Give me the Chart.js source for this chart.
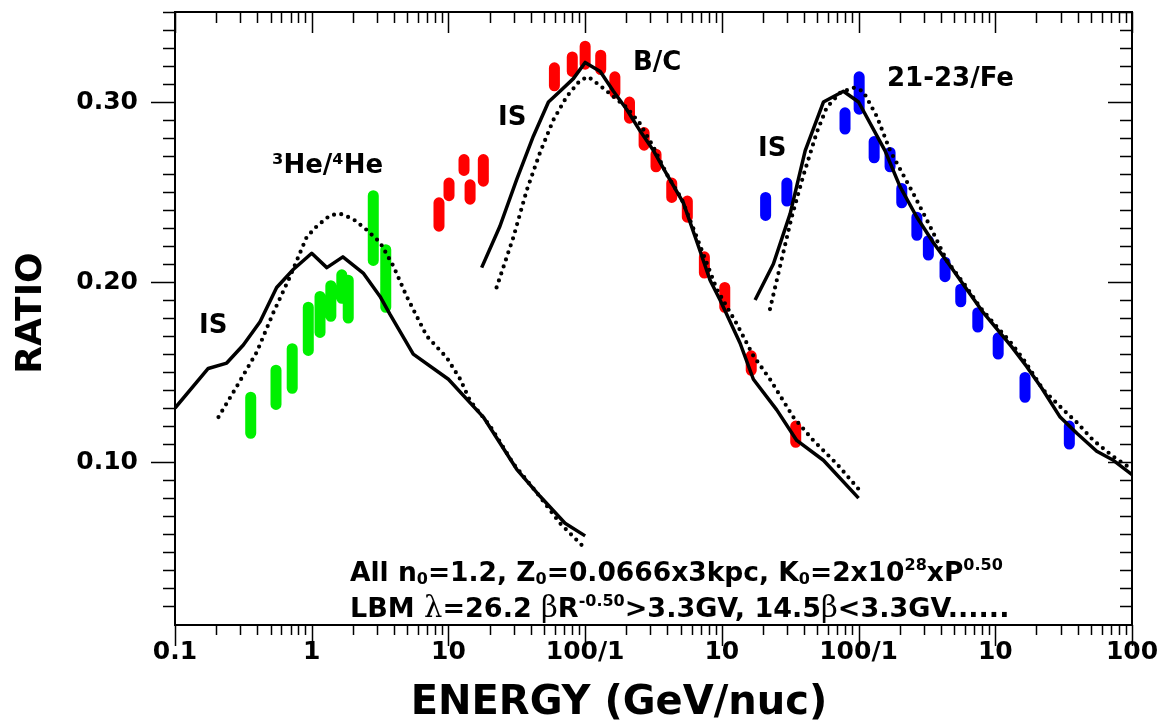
<!DOCTYPE html>
<html>
<head>
<meta charset="utf-8">
<script src="https://cdn.jsdelivr.net/npm/chart.js@4.4.1/dist/chart.umd.min.js"></script>
<style>
  html, body { margin: 0; background: #fff; }
</style>
</head>
<body>
<canvas id="ratioChart" width="1164" height="721"></canvas>
<script>
// three panels share one energy axis: He (x1), B/C (x100), 21-23/Fe (x1e4)
const panelShift = [1, 100, 1e4];

// 3He/4He data (GeV/nuc, ratio range)
const heE  = [0.358, 0.548, 0.72, 0.944, 1.15, 1.38, 1.66, 1.85, 2.82, 3.48];
const heHi = [0.136, 0.151, 0.163, 0.186, 0.192, 0.198, 0.204, 0.201, 0.248, 0.218];
const heLo = [0.116, 0.132, 0.141, 0.162, 0.172, 0.181, 0.191, 0.180, 0.212, 0.186];

// B/C data
const bcE  = [0.0853, 0.101, 0.130, 0.144, 0.180, 0.596, 0.805, 1.0, 1.30, 1.65, 2.11, 2.70, 3.30, 4.30, 5.59, 7.45, 10.5, 16.4, 34.7];
const bcHi = [0.244, 0.255, 0.268, 0.254, 0.268, 0.319, 0.325, 0.331, 0.326, 0.314, 0.300, 0.283, 0.271, 0.255, 0.245, 0.214, 0.197, 0.159, 0.120];
const bcLo = [0.231, 0.248, 0.262, 0.246, 0.256, 0.309, 0.317, 0.321, 0.318, 0.305, 0.291, 0.276, 0.264, 0.247, 0.236, 0.205, 0.186, 0.151, 0.111];

// 21-23/Fe data
const feE  = [0.209, 0.299, 0.796, 1.01, 1.30, 1.70, 2.07, 2.67, 3.24, 4.29, 5.59, 7.45, 10.5, 16.5, 34.8];
const feHi = [0.247, 0.255, 0.294, 0.314, 0.278, 0.272, 0.252, 0.236, 0.223, 0.211, 0.196, 0.183, 0.169, 0.147, 0.120];
const feLo = [0.237, 0.245, 0.285, 0.296, 0.269, 0.264, 0.244, 0.226, 0.215, 0.203, 0.189, 0.175, 0.160, 0.136, 0.110];

// model curves: solid = IS, dotted = modulated
const heSolidE = [0.1, 0.175, 0.239, 0.316, 0.419, 0.554, 0.733, 1.0, 1.29, 1.69, 2.38, 3.16, 3.74, 5.53, 10.0, 18.0, 31.6, 46.8, 71.3, 100];
const heSolidR = [0.130, 0.152, 0.155, 0.165, 0.178, 0.197, 0.207, 0.216, 0.208, 0.214, 0.205, 0.192, 0.182, 0.160, 0.146, 0.125, 0.096, 0.081, 0.066, 0.059];
const heDotE = [0.208, 0.283, 0.396, 0.524, 0.694, 0.919, 1.09, 1.36, 1.61, 2.01, 2.52, 3.16, 3.95, 4.95, 6.94, 9.72, 12.2, 14.4, 20.2, 29.9, 44.3, 65.5, 97];
const heDotR = [0.125, 0.142, 0.161, 0.183, 0.203, 0.225, 0.231, 0.237, 0.238, 0.235, 0.229, 0.222, 0.209, 0.192, 0.170, 0.158, 0.146, 0.134, 0.120, 0.099, 0.083, 0.066, 0.053];

const bcSolidE = [0.175, 0.238, 0.316, 0.418, 0.539, 0.655, 0.82, 1.0, 1.29, 1.61, 2.01, 2.52, 3.16, 3.95, 5.23, 6.73, 8.2, 9.7, 13.6, 17.0, 25.2, 35.3, 55.3, 100];
const bcSolidR = [0.208, 0.231, 0.257, 0.281, 0.300, 0.306, 0.313, 0.322, 0.317, 0.306, 0.296, 0.284, 0.273, 0.260, 0.244, 0.220, 0.201, 0.190, 0.166, 0.146, 0.129, 0.112, 0.101, 0.080];
const bcDotE = [0.225, 0.299, 0.374, 0.468, 0.585, 0.733, 0.918, 1.055, 1.29, 1.61, 2.01, 2.52, 3.16, 3.95, 5.09, 6.55, 9.18, 12.8, 17.0, 22.5, 33.3, 46.7, 69.3, 100];
const bcDotR = [0.197, 0.225, 0.251, 0.272, 0.290, 0.303, 0.312, 0.314, 0.309, 0.303, 0.297, 0.288, 0.275, 0.260, 0.246, 0.225, 0.196, 0.177, 0.159, 0.146, 0.125, 0.112, 0.099, 0.085];

const feSolidE = [0.175, 0.238, 0.316, 0.407, 0.553, 0.775, 1.0, 1.56, 2.01, 2.67, 3.52, 4.67, 6.18, 8.18, 13.2, 17.0, 21.9, 29.8, 39.5, 55.2, 73.1, 100];
const feSolidR = [0.190, 0.210, 0.238, 0.273, 0.300, 0.306, 0.300, 0.273, 0.253, 0.236, 0.222, 0.209, 0.196, 0.183, 0.164, 0.153, 0.141, 0.125, 0.116, 0.106, 0.101, 0.093];
const feDotE = [0.225, 0.267, 0.324, 0.394, 0.494, 0.585, 0.731, 0.914, 1.08, 1.36, 1.70, 2.52, 3.33, 4.41, 6.18, 7.74, 10.3, 12.8, 16.1, 22.5, 31.5, 39.5, 52.2, 73.1, 100];
const feDotR = [0.185, 0.209, 0.236, 0.259, 0.283, 0.297, 0.305, 0.308, 0.306, 0.292, 0.273, 0.249, 0.231, 0.212, 0.197, 0.186, 0.175, 0.167, 0.157, 0.140, 0.129, 0.122, 0.112, 0.103, 0.096];

// axis ticks
const xDecades = [0.1, 1, 10, 100, 1e3, 1e4, 1e5, 1e6];
const xTickLabels = ["0.1", "1", "10", "100/1", "10", "100/1", "10", "100"];
const yMajor = [0.10, 0.20, 0.30];
const yTickLabels = ["0.10", "0.20", "0.30"];

function curve(E, R, shift) {
    return E.map((e, i) => ({ x: e * shift, y: R[i] }));
}

function errBars(E, lo, hi, shift) {
    const out = [];
    E.forEach((e, i) => {
        out.push({ x: e * shift, y: lo[i] });
        out.push({ x: e * shift, y: hi[i] });
        out.push({ x: e * shift, y: null });
    });
    return out;
}

function solid(data) {
    return { data, showLine: true, borderColor: "#000", borderWidth: 3.5, pointRadius: 0, borderJoinStyle: "round" };
}
function dotted(data) {
    return { data, showLine: true, borderColor: "#000", borderWidth: 4.2, borderDash: [0, 7.4], borderCapStyle: "round", pointRadius: 0 };
}
function bars(data, color) {
    return { data, showLine: true, spanGaps: false, borderColor: color, borderWidth: 11, borderCapStyle: "round", pointRadius: 0 };
}

const FONT = "'DejaVu Sans', sans-serif";

function drawRich(ctx, x, y, segs, size) {
    const small = Math.round(size * 0.6);
    segs.forEach(([txt, kind]) => {
        let f = "bold " + size + "px " + FONT, dy = 0;
        if (kind === "b") { f = "bold " + small + "px " + FONT; dy = 3; }
        if (kind === "p") { f = "bold " + small + "px " + FONT; dy = -size * 0.42; }
        if (kind === "s") { f = (size + 2) + "px 'DejaVu Serif', serif"; }
        ctx.font = f;
        ctx.fillText(txt, x, y + dy);
        x += ctx.measureText(txt).width;
    });
}

const framePlugin = {
    id: "frame",
    afterDatasetsDraw(chart) {
        const ctx = chart.ctx;
        const a = chart.chartArea;
        const sx = chart.scales.x, sy = chart.scales.y;
        ctx.save();
        ctx.strokeStyle = "#000";
        ctx.lineWidth = 2;
        ctx.strokeRect(a.left, a.top, a.right - a.left, a.bottom - a.top);

        ctx.lineWidth = 1.5;
        ctx.beginPath();
        // x ticks: bottom outward, top inward
        for (let d = -1; d <= 6; d++) {
            const px = Math.round(sx.getPixelForValue(Math.pow(10, d))) + 0.5;
            ctx.moveTo(px, a.bottom); ctx.lineTo(px, a.bottom + 21);
            ctx.moveTo(px, a.top); ctx.lineTo(px, a.top + 21);
            if (d === 6) continue;
            for (let m = 2; m <= 9; m++) {
                const p = Math.round(sx.getPixelForValue(m * Math.pow(10, d))) + 0.5;
                ctx.moveTo(p, a.bottom); ctx.lineTo(p, a.bottom + 10);
                ctx.moveTo(p, a.top); ctx.lineTo(p, a.top + 11);
            }
        }
        // y ticks: left outward, right inward
        for (let k = 2; k <= 35; k++) {
            const py = Math.round(sy.getPixelForValue(k / 100)) + 0.5;
            const len = (k % 10 === 0) ? 24 : 12;
            ctx.moveTo(a.left, py); ctx.lineTo(a.left - len, py);
            ctx.moveTo(a.right, py); ctx.lineTo(a.right - len, py);
        }
        ctx.stroke();

        ctx.fillStyle = "#000";
        ctx.textBaseline = "alphabetic";

        // axis titles
        ctx.font = "bold 40px " + FONT;
        ctx.textAlign = "center";
        ctx.fillText("ENERGY (GeV/nuc)", 619, 714);
        ctx.save();
        ctx.translate(41, 313);
        ctx.rotate(-Math.PI / 2);
        ctx.font = "bold 36px " + FONT;
        ctx.fillText("RATIO", 0, 0);
        ctx.restore();

        // panel labels
        ctx.textAlign = "left";
        ctx.font = "bold 26px " + FONT;
        ctx.fillText("\u00B3He/\u2074He", 272, 173);
        ctx.fillText("IS", 199, 333);
        ctx.fillText("IS", 498, 125);
        ctx.fillText("B/C", 633, 70);
        ctx.fillText("IS", 758, 156);
        ctx.fillText("21-23/Fe", 887, 86);

        drawRich(ctx, 350, 581, [
            ["All n", ""], ["0", "b"], ["=1.2, Z", ""], ["0", "b"], ["=0.0666x3kpc, K", ""],
            ["0", "b"], ["=2x10", ""], ["28", "p"], ["xP", ""], ["0.50", "p"]
        ], 26.5);
        drawRich(ctx, 350, 617, [
            ["LBM ", ""], ["\u03BB", "s"], ["=26.2 ", ""], ["\u03B2", "s"], ["R", ""], ["-0.50", "p"],
            [">3.3GV, 14.5", ""], ["\u03B2", "s"], ["<3.3GV......", ""]
        ], 27);
        ctx.restore();
    }
};

new Chart(document.getElementById("ratioChart").getContext("2d"), {
    type: "scatter",
    data: {
        datasets: [
            solid(curve(heSolidE, heSolidR, panelShift[0])),
            dotted(curve(heDotE, heDotR, panelShift[0])),
            solid(curve(bcSolidE, bcSolidR, panelShift[1])),
            dotted(curve(bcDotE, bcDotR, panelShift[1])),
            solid(curve(feSolidE, feSolidR, panelShift[2])),
            dotted(curve(feDotE, feDotR, panelShift[2])),
            bars(errBars(heE, heLo, heHi, panelShift[0]), "#00f000"),
            bars(errBars(bcE, bcLo, bcHi, panelShift[1]), "#ff0000"),
            bars(errBars(feE, feLo, feHi, panelShift[2]), "#0000ff")
        ]
    },
    options: {
        responsive: false,
        animation: false,
        layout: { padding: { left: 0, right: 32, top: 12, bottom: 0 } },
        plugins: { legend: { display: false }, tooltip: { enabled: false } },
        scales: {
            x: {
                type: "logarithmic",
                min: 0.1,
                max: 1e6,
                grid: { display: false, drawTicks: false },
                border: { display: false },
                afterFit(s) { s.height = 96; s.paddingLeft = 0; s.paddingRight = 0; },
                afterBuildTicks(s) { s.ticks = xDecades.map(v => ({ value: v })); },
                ticks: {
                    autoSkip: false,
                    maxRotation: 0,
                    padding: 12,
                    color: "#000",
                    font: { family: FONT, weight: "bold", size: 25 },
                    callback: (v, i) => xTickLabels[i]
                }
            },
            y: {
                type: "linear",
                min: 0.0095,
                max: 0.35,
                grid: { display: false, drawTicks: false },
                border: { display: false },
                afterFit(s) { s.width = 175; s.paddingTop = 0; s.paddingBottom = 0; },
                afterBuildTicks(s) { s.ticks = yMajor.map(v => ({ value: v })); },
                ticks: {
                    autoSkip: false,
                    padding: 37,
                    color: "#000",
                    font: { family: FONT, weight: "bold", size: 25 },
                    callback: (v, i) => yTickLabels[i]
                }
            }
        }
    },
    plugins: [framePlugin]
});
</script>
</body>
</html>
